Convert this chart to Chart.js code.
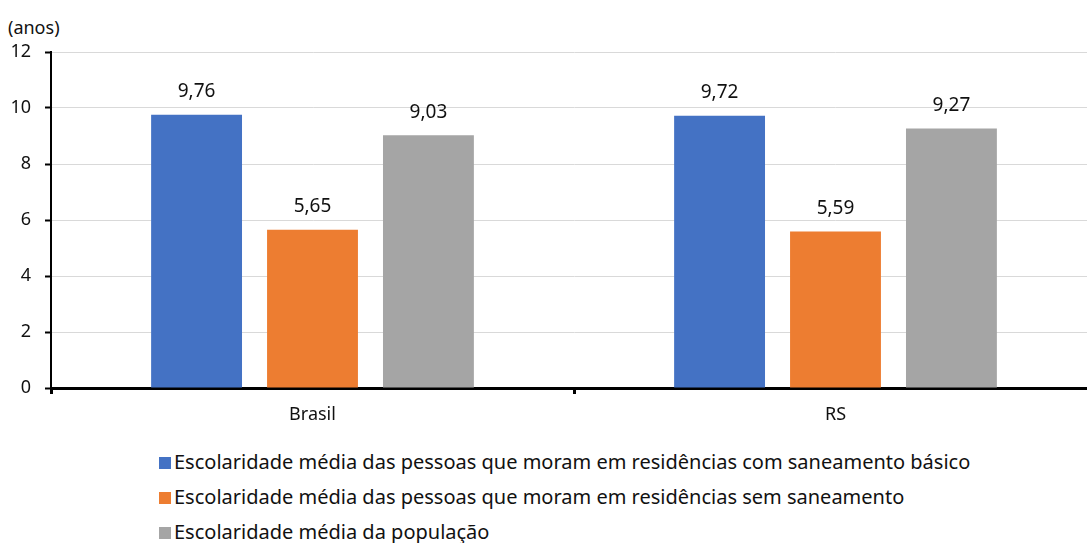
<!DOCTYPE html>
<html>
<head>
<meta charset="utf-8">
<script src="https://cdn.jsdelivr.net/npm/chart.js@4"></script>
<style>
  html, body { margin: 0; padding: 0; background: #fff; overflow: hidden; }
  body { width: 1087px; height: 543px; position: relative; font-family: "Noto Sans", sans-serif; color: #111; }
  #wrap { position: absolute; left: 0; top: 0; width: 1097px; height: 430px; }
  #unit { position: absolute; left: 8px; top: 14px; font-size: 18px; line-height: 26px; }
  #legend { position: absolute; left: 159px; top: 448px; font-size: 20px; }
  #legend div { height: 35px; line-height: 28px; white-space: nowrap; }
  #legend span.box { display: inline-block; width: 12px; height: 12px; margin-right: 3px; vertical-align: 0px; }
</style>
</head>
<body>
<div id="unit">(anos)</div>
<div id="wrap"><canvas id="chart"></canvas></div>
<div id="legend"></div>
<script>
// ==========================
// DADOS
// ==========================
const categories = ['Brasil', 'RS'];
const comSaneamento = [9.76, 9.72];
const semSaneamento = [5.65, 5.59];
const populacao = [9.03, 9.27];
const seriesLabels = [
  'Escolaridade média das pessoas que moram em residências com saneamento básico',
  'Escolaridade média das pessoas que moram em residências sem saneamento',
  'Escolaridade média da população'
];
const seriesColors = ['#4472C4', '#ED7D31', '#A5A5A5'];
const yTicks = [0, 2, 4, 6, 8, 10, 12];

const fontFamily = '"Noto Sans", sans-serif';
const textColor = '#111';

// ==========================
// RÓTULOS DOS VALORES
// ==========================
const valueLabels = {
  id: 'valueLabels',
  afterDatasetsDraw(chart) {
    const ctx = chart.ctx;
    ctx.save();
    ctx.font = '19px ' + fontFamily;
    ctx.fillStyle = textColor;
    ctx.textAlign = 'center';
    ctx.textBaseline = 'middle';
    chart.data.datasets.forEach((ds, i) => {
      chart.getDatasetMeta(i).data.forEach((bar, j) => {
        const txt = ds.data[j].toFixed(2).replace('.', ',');
        ctx.fillText(txt, bar.x, bar.y - 23);
      });
    });
    ctx.restore();
  }
};

const datasets = [comSaneamento, semSaneamento, populacao].map((data, i) => ({
  label: seriesLabels[i],
  data: data,
  backgroundColor: seriesColors[i],
  categoryPercentage: 0.665,
  barPercentage: 0.784
}));

new Chart(document.getElementById('chart'), {
  type: 'bar',
  data: { labels: categories, datasets: datasets },
  options: {
    responsive: true,
    maintainAspectRatio: false,
    animation: false,
    layout: { padding: { top: 52, right: 0, bottom: 0, left: 0 } },
    plugins: {
      legend: { display: false },
      tooltip: { enabled: false }
    },
    scales: {
      x: {
        grid: {
          offset: true,
          drawOnChartArea: false,
          drawTicks: true,
          tickLength: 6,
          tickWidth: 3,
          tickColor: '#000'
        },
        border: { display: true, color: '#000', width: 3 },
        ticks: { color: textColor, font: { family: fontFamily, size: 18 }, padding: 10 },
        afterFit(scale) { scale.height = 42; }
      },
      y: {
        min: 0,
        max: 12,
        afterBuildTicks(scale) { scale.ticks = yTicks.map(v => ({ value: v })); },
        grid: {
          color: '#d9d9d9',
          lineWidth: 1,
          drawTicks: true,
          tickLength: 6,
          tickWidth: 2,
          tickColor: '#000'
        },
        border: { display: true, color: '#000', width: 2 },
        ticks: { color: textColor, font: { family: fontFamily, size: 18 }, padding: 14 },
        afterFit(scale) { scale.width = 51; }
      }
    }
  },
  plugins: [valueLabels]
});

// ==========================
// LEGENDA
// ==========================
const legend = document.getElementById('legend');
seriesLabels.forEach((label, i) => {
  const row = document.createElement('div');
  row.innerHTML = '<span class="box" style="background:' + seriesColors[i] + '"></span>' + label;
  legend.appendChild(row);
});
</script>
</body>
</html>
